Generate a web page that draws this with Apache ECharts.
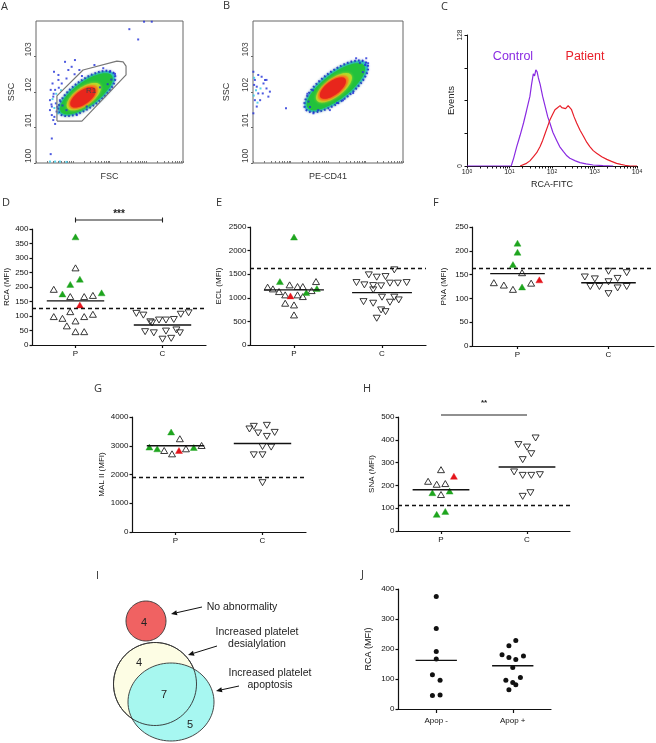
<!DOCTYPE html>
<html><head><meta charset="utf-8">
<script src="https://cdn.jsdelivr.net/npm/echarts@6/dist/echarts.min.js"></script>
<style>html,body{margin:0;padding:0;background:#fff}#c{width:656px;height:743px}</style>
</head><body><div id="c"></div>
<script>
// ================= DATA =================
// A: FSC / SSC dot plot (values in log10 decades)
const flowTickLabels = ['100', '101', '102', '103'];
const aGate = [[0.57,1.18],[1.25,1.18],[2.45,2.48],[2.45,2.73],[2.37,2.85],[2.20,2.87],[1.28,2.62],[0.57,1.89],[0.57,1.18]];
// density contours: [cx, cy, semi-major, semi-minor, angle(deg)]  outer -> inner
const aDensity = [[1.38,1.96,0.93,0.38,37],[1.37,1.95,0.86,0.33,37],[1.30,1.87,0.55,0.25,37],[1.29,1.86,0.47,0.22,37],[1.28,1.85,0.41,0.19,37]];
const aDotsBlue = [[0.38,1.77],[0.43,1.59],[0.47,1.87],[0.52,2.06],[0.45,2.24],[0.49,2.57],[0.61,2.34],[0.70,2.24],[0.79,2.85],[0.88,2.62],[0.97,2.71],[1.06,2.90],[1.18,2.62],[0.38,1.49],[0.43,1.35],[0.47,1.21],[0.52,1.10],[0.56,1.45],[0.40,2.06],[0.61,2.48],[0.83,2.38],[0.65,1.77],[0.54,1.68],[0.43,0.69],[0.40,0.25],[2.54,3.77],[2.78,3.48],[2.94,3.98],[3.15,3.98],[2.15,2.51],[2.01,2.57],[1.59,2.76],[1.83,2.67],[1.74,2.13],[1.38,1.59],[1.11,1.35],[0.83,1.49],[0.48,1.95],[0.42,1.65],[0.58,1.58],[0.50,1.30],[0.62,2.12],[0.72,1.62],[2.05,2.35],[1.95,2.22],[1.25,2.45],[1.05,2.50]];
const aDotsCyan = [[0.38,0.04],[0.52,0.04],[0.65,0.04],[0.83,0.03],[0.45,1.80],[0.55,1.95],[0.60,1.40],[0.50,1.55],[0.68,2.05]];
// B: PE-CD41 / SSC
const bDensity = [[2.22,2.16,1.04,0.41,39],[2.21,2.15,0.96,0.35,39],[2.16,2.12,0.58,0.25,39],[2.14,2.11,0.49,0.22,39],[2.13,2.11,0.42,0.19,39]];
const bDotsBlue = [[0.01,2.57],[0.05,2.34],[0.10,2.15],[0.14,1.96],[0.23,2.43],[0.28,2.24],[0.36,2.10],[0.41,1.87],[0.19,1.77],[0.10,1.59],[0.01,1.40],[0.05,1.77],[0.32,2.34],[0.45,2.01],[0.14,2.48],[0.26,1.96],[0.36,2.34],[0.03,2.20],[0.88,1.54],[1.52,1.58],[1.48,1.73],[1.61,1.40],[1.74,1.49],[2.85,2.82],[2.99,2.76],[3.07,2.81],[2.93,2.56],[2.67,1.97],[2.40,1.77],[2.05,1.49],[2.24,1.69],[3.02,2.95],[2.75,2.95],[1.45,1.95],[1.60,2.05]];
const bDotsCyan = [[0.02,1.90],[0.08,2.05],[0.20,2.10],[0.03,2.40],[0.12,1.70]];
// C: RCA-FITC histograms [log10 intensity, events]
const cControl = [[0.00,0],[1.04,0],[1.10,8],[1.17,19],[1.25,30],[1.33,42],[1.40,54],[1.48,68],[1.52,80],[1.56,90],[1.59,88],[1.62,94],[1.65,92],[1.68,86],[1.72,80],[1.78,68],[1.84,58],[1.90,48],[1.95,42],[2.02,33],[2.11,25],[2.18,19],[2.27,14],[2.35,10],[2.42,7.5],[2.55,5],[2.66,3.3],[2.80,2],[2.97,1],[3.20,0.4],[3.44,0]];
const cPatient = [[1.25,0],[1.40,2.6],[1.48,5],[1.56,9],[1.64,13],[1.72,19],[1.78,25],[1.84,32],[1.90,39],[1.95,45],[2.01,50],[2.07,55],[2.13,57],[2.19,59],[2.23,57],[2.27,58],[2.32,56],[2.38,59],[2.42,57],[2.46,55],[2.52,48],[2.58,42],[2.66,35],[2.74,29],[2.82,23],[2.89,19],[2.97,15],[3.05,12.4],[3.17,9],[3.29,6.5],[3.40,4.5],[3.52,2.6],[3.62,1.6],[3.72,0.7],[3.84,0],[4.00,0]];
const cLegend = ['Control', 'Patient'];
// D-H: [horizontal jitter within group, MFI]
const pcCats = ['P', 'C'];
const dPOpen = [[0,266],[-0.25,192],[-0.06,167],[0.10,167],[0.20,171],[-0.25,98],[-0.15,92],[-0.06,115],[0.10,98],[0.20,106],[-0.10,66],[0,83],[0,46],[0.10,46]];
const dPGreen = [[0,373],[-0.06,209],[0.05,227],[-0.15,176],[0.30,180]];
const dPRed = [[0.05,138]];
const dCOpen = [[-0.30,109],[-0.22,103],[-0.14,80],[-0.04,86],[0.04,86],[0.13,88],[0.21,106],[0.30,111],[-0.20,46],[-0.10,42],[0.04,48],[0.16,52],[0.20,42],[0,20],[0.10,23],[-0.12,76]];
const dMeans = [152, 69], dThreshold = 128, dSig = '***', dSigLevel = 431;
const ePOpen = [[-0.30,1225],[-0.24,1189],[-0.17,1132],[-0.10,1062],[-0.05,1274],[0.04,1238],[0.10,1238],[0.04,1062],[0.10,1026],[-0.10,885],[0,849],[0,637],[0.20,1153],[0.25,1344]];
const ePGreen = [[0,2287],[-0.16,1344],[0.14,1110],[0.26,1196]];
const ePRed = [[-0.04,1040]];
const eCOpen = [[-0.29,1323],[-0.20,1274],[-0.10,1259],[-0.01,1253],[0.09,1310],[0.18,1310],[0.28,1323],[-0.15,1486],[-0.06,1437],[0.04,1450],[0.14,1592],[-0.10,1168],[-0.21,919],[-0.10,885],[0,1013],[0.14,1013],[0.19,955],[0.09,906],[-0.01,743],[0.04,707],[-0.06,567]];
const eMeans = [1168, 1110], eThreshold = 1635;
const fPOpen = [[0.05,154],[-0.26,133],[-0.15,128],[-0.05,119],[0.15,132]];
const fPGreen = [[0,216],[0,197],[-0.05,171],[0.05,124]];
const fPRed = [[0.24,139]];
const fCOpen = [[-0.26,145],[-0.15,141],[0,157],[0.20,154],[0.10,142],[0,135],[-0.20,125],[-0.10,125],[0.10,122],[0.20,125],[0,110]];
const fMeans = [152, 133], fThreshold = 164;
const gPOpen = [[0.05,3244],[-0.13,2835],[-0.04,2719],[0.12,2894],[0.30,3009]];
const gPGreen = [[-0.05,3478],[-0.30,2953],[-0.21,2894],[0.21,2940]];
const gPRed = [[0.04,2835]];
const gCOpen = [[-0.15,3583],[-0.10,3675],[-0.05,3443],[0.05,3710],[0.05,3325],[0.14,3465],[0,2975],[0.10,2953],[-0.10,2684],[0,2684],[0,1715]];
const gMeans = [2999, 3079], gThreshold = 1903;
const hPOpen = [[0,269],[-0.15,218],[-0.05,205],[0.05,208],[0,160]];
const hPGreen = [[-0.10,168],[0.10,175],[-0.05,73],[0.05,86]];
const hPRed = [[0.15,240]];
const hCOpen = [[0.10,408],[-0.10,379],[0,368],[0.05,339],[-0.05,313],[-0.15,259],[-0.05,244],[0.05,244],[0.15,247],[-0.05,152],[0.04,168]];
const hMeans = [181, 281], hThreshold = 111, hSig = '**', hSigLevel = 509;
// I: Venn counts [no abnormality, desialylation only, both, apoptosis only]
const vennLabels = ['No abnormality', 'Increased platelet\ndesialylation', 'Increased platelet\napoptosis'];
const vennCounts = [4, 4, 7, 5];
// J
const apopCats = ['Apop -', 'Apop +'];
const jNeg = [[0,375],[0,268],[0,192],[0,167],[-0.05,114],[0.05,96],[-0.05,45],[0.05,47]];
const jPos = [[0.04,228],[-0.05,211],[-0.14,181],[-0.05,172],[0.04,165],[0.14,177],[0,138],[-0.09,96],[0.10,105],[0,88],[0.04,81],[-0.05,64]];
const jMeans = [162, 144];

// ================= LAYOUT / STYLE =================
const FONT = '"Liberation Sans", Arial, sans-serif';
const LFONT = '"Open Sans", "Liberation Sans", sans-serif';
const densityStyles = [
  {fill:'rgba(40,200,225,0.85)', stroke:'#2a34d8', lineWidth:2.2, lineDash:[1.6,2.2], shadowBlur:2, shadowColor:'rgba(40,60,220,0.6)'},
  {fill:'#22c23c', shadowBlur:4, shadowColor:'#22c23c'},
  {fill:'#b8dc2a', shadowBlur:3, shadowColor:'#b8dc2a'},
  {fill:'#f4961c', shadowBlur:3, shadowColor:'#f4961c'},
  {fill:'#e8261c', shadowBlur:3, shadowColor:'#e8261c'}
];
const logTicks = [];
for (let d = 0; d < 4; d++) for (let k = 1; k < 10; k++) logTicks.push(d + Math.log10(k));
logTicks.push(4);

const grids = [
  {left:36, top:21, width:147, height:142, show:true, borderColor:'#666', borderWidth:1},
  {left:253, top:21, width:150, height:142, show:true, borderColor:'#666', borderWidth:1},
  {left:467, top:35, width:170, height:131},
  {left:32, top:229, width:174, height:116},
  {left:250, top:227, width:176, height:118},
  {left:472, top:227, width:182, height:119},
  {left:132, top:417, width:174, height:115},
  {left:398, top:417, width:172, height:114},
  {left:100, top:580, width:200, height:163},
  {left:398, top:589, width:153, height:120}
];
const xAxes = [], yAxes = [], series = [];

function ellipsePts(cx, cy, a, b, ang, n) {
  const pts = [];
  for (let k = 0; k < n; k++) {
    const t = k / n * 2 * Math.PI;
    pts.push([cx + a*Math.cos(t)*Math.cos(ang) - b*Math.sin(t)*Math.sin(ang),
              cy + a*Math.cos(t)*Math.sin(ang) + b*Math.sin(t)*Math.cos(ang)]);
  }
  return pts;
}

function flowPanel(gi, xName, yNameGap, density, gate, blue, cyan) {
  xAxes.push({gridIndex:gi, type:'value', min:0, max:4, name:xName, nameLocation:'middle', nameGap:9,
    nameTextStyle:{fontSize:9, fontFamily:FONT, color:'#333'},
    axisLine:{show:false}, axisTick:{show:true, inside:true, length:2, customValues:logTicks, lineStyle:{color:'#777'}},
    axisLabel:{show:false}, splitLine:{show:false}});
  yAxes.push({gridIndex:gi, type:'value', min:0, max:4, name:'SSC', nameLocation:'middle', nameRotate:90, nameGap:yNameGap,
    nameTextStyle:{fontSize:9, fontFamily:FONT, color:'#333'},
    axisLine:{show:false}, axisTick:{show:true, customValues:[0,1,2,3], length:2, lineStyle:{color:'#666'}},
    axisLabel:{customValues:[0,1,2,3], formatter:v => flowTickLabels[Math.round(v)], rotate:90, align:'left', verticalAlign:'bottom',
      margin:3, fontSize:8.5, color:'#444', fontFamily:FONT}, splitLine:{show:false}});
  series.push({type:'custom', xAxisIndex:gi, yAxisIndex:gi, silent:true, clip:true, z:2, data:density,
    renderItem:(params, api) => {
      const i = params.dataIndex;
      const pts = ellipsePts(api.value(0), api.value(1), api.value(2), api.value(3), api.value(4)*Math.PI/180, 64).map(p => api.coord(p));
      return {type:'polygon', shape:{points:pts}, style:Object.assign({}, densityStyles[i])};
    }});
  series.push({type:'scatter', xAxisIndex:gi, yAxisIndex:gi, silent:true, z:3, symbol:'rect', symbolSize:2, clip:true,
    itemStyle:{color:'#2030d8'}, data:blue});
  series.push({type:'scatter', xAxisIndex:gi, yAxisIndex:gi, silent:true, z:3, symbol:'rect', symbolSize:2, clip:true,
    itemStyle:{color:'#30c8e8'}, data:cyan});
  if (gate) series.push({type:'line', xAxisIndex:gi, yAxisIndex:gi, silent:true, z:4, showSymbol:false, data:gate,
    lineStyle:{color:'#777', width:1.2}});
}

// A, B
flowPanel(0, 'FSC', 20, aDensity, aGate, aDotsBlue, aDotsCyan);
flowPanel(1, 'PE-CD41', 22, bDensity, null, bDotsBlue, bDotsCyan);

// C
xAxes.push({gridIndex:2, type:'value', min:0, max:4, name:'RCA-FITC', nameLocation:'middle', nameGap:14,
  nameTextStyle:{fontSize:9, fontFamily:FONT, color:'#222'},
  axisLine:{show:true, onZero:false, lineStyle:{color:'#111', width:1}},
  axisTick:{show:true, customValues:logTicks, length:2.5, lineStyle:{color:'#111'}},
  axisLabel:{customValues:[0,1,2,3,4], formatter:v => '10{s|' + Math.round(v) + '}', fontSize:7, color:'#222', fontFamily:FONT, margin:3,
    rich:{s:{fontSize:5, verticalAlign:'top', fontFamily:FONT, color:'#222'}}},
  splitLine:{show:false}});
yAxes.push({gridIndex:2, type:'value', min:0, max:128, interval:32, name:'Events', nameLocation:'middle', nameRotate:90, nameGap:4,
  nameTextStyle:{fontSize:9.5, fontFamily:FONT, color:'#222'},
  axisLine:{show:true, onZero:false, lineStyle:{color:'#111', width:1}},
  axisTick:{show:true, length:2.5, lineStyle:{color:'#111'}},
  axisLabel:{formatter:v => (v === 0 || v === 128) ? String(v) : '', rotate:90, fontSize:6.5, color:'#222', fontFamily:FONT, margin:3},
  splitLine:{show:false}});
series.push({type:'line', xAxisIndex:2, yAxisIndex:2, silent:true, showSymbol:false, data:cControl, z:3,
  lineStyle:{color:'#8a2be2', width:1.2}});
series.push({type:'line', xAxisIndex:2, yAxisIndex:2, silent:true, showSymbol:false, data:cPatient, z:3,
  lineStyle:{color:'#e8202a', width:1.2}});

// dot-plot panels
const STY = {
  openUp:{symbol:'triangle', rotate:0, size:[7,6], fill:'rgba(255,255,255,0)', stroke:'#222', bw:0.9},
  greenUp:{symbol:'triangle', rotate:0, size:[7,6], fill:'#1ea51e', stroke:'#1ea51e', bw:0.4},
  redUp:{symbol:'triangle', rotate:0, size:[7,6], fill:'#e5141b', stroke:'#e5141b', bw:0.4},
  openDown:{symbol:'triangle', rotate:180, size:[7,6], fill:'rgba(255,255,255,0)', stroke:'#222', bw:0.9},
  dot:{symbol:'circle', rotate:0, size:5, fill:'#111', stroke:'#111', bw:0}
};
function dotPanel(gi, p) {
  xAxes.push({gridIndex:gi, type:'value', min:-0.5, max:1.5,
    axisLine:{show:true, onZero:false, lineStyle:{color:'#111', width:1.2}},
    axisTick:{show:true, customValues:[0,1], length:p.tickLen || 3, lineStyle:{color:'#111', width:1.2}},
    axisLabel:{customValues:[0,1], formatter:v => p.cats[Math.round(v)], fontSize:p.xfs || p.fs, color:'#111', fontFamily:FONT, margin:p.xMargin || 5},
    splitLine:{show:false}});
  yAxes.push({gridIndex:gi, type:'value', min:0, max:p.max, interval:p.interval,
    axisLine:{show:true, onZero:false, lineStyle:{color:'#111', width:1.2}},
    axisTick:{show:true, length:2.5, lineStyle:{color:'#111', width:1.2}},
    axisLabel:{formatter:v => String(v), fontSize:p.fs, color:'#111', fontFamily:FONT, margin:3.5},
    splitLine:{show:false},
    name:p.name, nameLocation:'middle', nameRotate:90, nameGap:p.nameGap,
    nameTextStyle:{fontSize:p.nfs || p.fs, color:'#111', fontFamily:FONT}});
  p.groups.forEach((g, k) => {
    const st = STY[g.kind];
    const s = {type:'scatter', xAxisIndex:gi, yAxisIndex:gi, silent:true, z:2,
      symbol:st.symbol, symbolRotate:st.rotate, symbolSize:st.size,
      itemStyle:{color:st.fill, borderColor:st.stroke, borderWidth:st.bw, opacity:1},
      data:g.pts.map(q => [g.idx + q[0], q[1]])};
    if (k === 0 && p.thr != null) {
      s.markLine = {silent:true, symbol:'none', animation:false, label:{show:false},
        lineStyle:{type:[4,3], color:'#111', width:1.3}, data:[{yAxis:p.thr}]};
    }
    series.push(s);
  });
  const hw = p.meanHalf;
  series.push({type:'custom', xAxisIndex:gi, yAxisIndex:gi, silent:true, z:3, data:p.means.map((m, i) => [i, m]),
    renderItem:(params, api) => {
      const a = api.coord([api.value(0) - hw, api.value(1)]), b = api.coord([api.value(0) + hw, api.value(1)]);
      return {type:'line', shape:{x1:a[0], y1:a[1], x2:b[0], y2:b[1]}, style:{stroke:'#111', lineWidth:1.4}};
    }});
  if (p.sig) {
    series.push({type:'custom', xAxisIndex:gi, yAxisIndex:gi, silent:true, z:3, data:[[0, p.sig.level, 1]],
      renderItem:(params, api) => {
        const a = api.coord([api.value(0), api.value(1)]), b = api.coord([api.value(2), api.value(1)]);
        const ch = [{type:'line', shape:{x1:a[0], y1:a[1], x2:b[0], y2:b[1]}, style:{stroke:'#222', lineWidth:1.1}},
          {type:'text', style:{text:p.sig.text, x:(a[0]+b[0])/2, y:a[1] + p.sig.dy, align:'center', verticalAlign:'middle',
            fontSize:p.sig.fs, fontFamily:FONT, fontWeight:'bold', fill:'#222'}}];
        if (p.sig.caps) {
          ch.push({type:'line', shape:{x1:a[0], y1:a[1]-2.5, x2:a[0], y2:a[1]+2.5}, style:{stroke:'#222', lineWidth:1.1}});
          ch.push({type:'line', shape:{x1:b[0], y1:b[1]-2.5, x2:b[0], y2:b[1]+2.5}, style:{stroke:'#222', lineWidth:1.1}});
        }
        return {type:'group', children:ch};
      }});
  }
}

dotPanel(3, {cats:pcCats, max:400, interval:50, name:'RCA (MFI)', nameGap:21, fs:8, meanHalf:0.33, thr:dThreshold, means:dMeans,
  sig:{text:dSig, level:dSigLevel, caps:true, dy:-6, fs:10},
  groups:[{kind:'openUp', idx:0, pts:dPOpen},{kind:'greenUp', idx:0, pts:dPGreen},{kind:'redUp', idx:0, pts:dPRed},{kind:'openDown', idx:1, pts:dCOpen}]});
dotPanel(4, {cats:pcCats, max:2500, interval:500, name:'ECL (MFI)', nameGap:27, fs:8, meanHalf:0.34, thr:eThreshold, means:eMeans,
  groups:[{kind:'openUp', idx:0, pts:ePOpen},{kind:'greenUp', idx:0, pts:ePGreen},{kind:'redUp', idx:0, pts:ePRed},{kind:'openDown', idx:1, pts:eCOpen}]});
dotPanel(5, {cats:pcCats, max:250, interval:50, name:'PNA (MFI)', nameGap:24, fs:8, meanHalf:0.30, thr:fThreshold, means:fMeans,
  groups:[{kind:'openUp', idx:0, pts:fPOpen},{kind:'greenUp', idx:0, pts:fPGreen},{kind:'redUp', idx:0, pts:fPRed},{kind:'openDown', idx:1, pts:fCOpen}]});
dotPanel(6, {cats:pcCats, max:4000, interval:1000, name:'MAL II (MFI)', nameGap:26, fs:8, meanHalf:0.33, thr:gThreshold, means:gMeans,
  groups:[{kind:'openUp', idx:0, pts:gPOpen},{kind:'greenUp', idx:0, pts:gPGreen},{kind:'redUp', idx:0, pts:gPRed},{kind:'openDown', idx:1, pts:gCOpen}]});
dotPanel(7, {cats:pcCats, max:500, interval:100, name:'SNA (MFI)', nameGap:22, fs:8, meanHalf:0.33, thr:hThreshold, means:hMeans,
  sig:{text:hSig, level:hSigLevel, caps:false, dy:-12, fs:8},
  groups:[{kind:'openUp', idx:0, pts:hPOpen},{kind:'greenUp', idx:0, pts:hPGreen},{kind:'redUp', idx:0, pts:hPRed},{kind:'openDown', idx:1, pts:hCOpen}]});

// I: Venn diagram (hidden layout axes)
xAxes.push({gridIndex:8, type:'value', min:0, max:200, show:false});
yAxes.push({gridIndex:8, type:'value', min:0, max:163, inverse:true, show:false});
const vennCircles = [[46,41,20,20],[55,104,41.5,41.5],[71,122,43,39]];
const vennFills = ['#f06262', '#fdfde4', 'rgba(160,246,240,0.92)'];
const vennCountPos = [[44,43],[39,83],[64,115],[90,145]];
const vennLabelPos = [[142,27],[157,58],[170,99]];
const vennArrows = [[[102,27],[71,34]],[[117,66],[88,75]],[[139,106],[116,111]]];
series.push({type:'custom', xAxisIndex:8, yAxisIndex:8, silent:true, z:2, data:[[0,0]],
  renderItem:(params, api) => {
    const ch = [];
    const circ = (c, fill, stroke) => {
      const ctr = api.coord([c[0], c[1]]), sz = api.size([c[2], c[3]]);
      return {type:'polygon', shape:{points:ellipsePts(ctr[0], ctr[1], sz[0], sz[1], 0, 90)},
        style:{fill:fill, stroke:stroke, lineWidth:0.9}};
    };
    ch.push(circ(vennCircles[0], vennFills[0], '#333'));
    ch.push(circ(vennCircles[1], vennFills[1], '#333'));
    ch.push(circ(vennCircles[2], vennFills[2], '#333'));
    ch.push(circ(vennCircles[1], 'rgba(0,0,0,0)', '#333'));
    vennCounts.forEach((n, i) => {
      const p = api.coord(vennCountPos[i]);
      ch.push({type:'text', style:{text:String(n), x:p[0], y:p[1], align:'center', verticalAlign:'middle', fontSize:11, fontFamily:FONT, fill:'#222'}});
    });
    vennLabels.forEach((t, i) => {
      const p = api.coord(vennLabelPos[i]);
      ch.push({type:'text', style:{text:t, x:p[0], y:p[1], align:'center', verticalAlign:'middle', fontSize:10.5, lineHeight:12.5, fontFamily:FONT, fill:'#222'}});
    });
    vennArrows.forEach(ar => {
      const a = api.coord(ar[0]), b = api.coord(ar[1]);
      const dx = b[0]-a[0], dy = b[1]-a[1], L = Math.hypot(dx, dy), ux = dx/L, uy = dy/L;
      const hl = 6, hw = 2.6;
      const bx = b[0] - ux*hl, by = b[1] - uy*hl;
      ch.push({type:'line', shape:{x1:a[0], y1:a[1], x2:bx, y2:by}, style:{stroke:'#111', lineWidth:1}});
      ch.push({type:'polygon', shape:{points:[[b[0],b[1]],[bx - uy*hw, by + ux*hw],[bx + uy*hw, by - ux*hw]]}, style:{fill:'#111'}});
    });
    return {type:'group', children:ch};
  }});

// J
dotPanel(9, {cats:apopCats, max:400, interval:100, name:'RCA (MFI)', nameGap:25, fs:8, nfs:9, xfs:8, xMargin:8, tickLen:4, meanHalf:0.27, thr:null, means:jMeans,
  groups:[{kind:'dot', idx:0, pts:jNeg},{kind:'dot', idx:1, pts:jPos}]});

// panel letters
const letters = [['A',1,1],['B',223,0],['C',441,1],['D',2,197],['E',216,197],['F',433,197],['G',94,383],['H',363,383],['I',96,570],['J',361,569]];
const titles = letters.map(l => ({text:l[0], left:l[1], top:l[2], padding:0,
  textStyle:{fontSize:11, fontWeight:'normal', fontFamily:LFONT, color:'#333'}}));

const chart = echarts.init(document.getElementById('c'));
chart.setOption({
  animation:false,
  backgroundColor:'#fff',
  title:titles,
  grid:grids,
  xAxis:xAxes,
  yAxis:yAxes,
  series:series,
  graphic:[
    {type:'text', x:513, y:57, style:{text:cLegend[0], fill:'#8a2be2', fontSize:12.5, fontFamily:FONT, align:'center', verticalAlign:'middle'}},
    {type:'text', x:585, y:57, style:{text:cLegend[1], fill:'#e8202a', fontSize:12.5, fontFamily:FONT, align:'center', verticalAlign:'middle'}},
    {type:'text', x:91, y:91, z:10, style:{text:'R1', fill:'#444', fontSize:8, fontFamily:FONT, align:'center', verticalAlign:'middle'}}
  ]
});
</script></body></html>
